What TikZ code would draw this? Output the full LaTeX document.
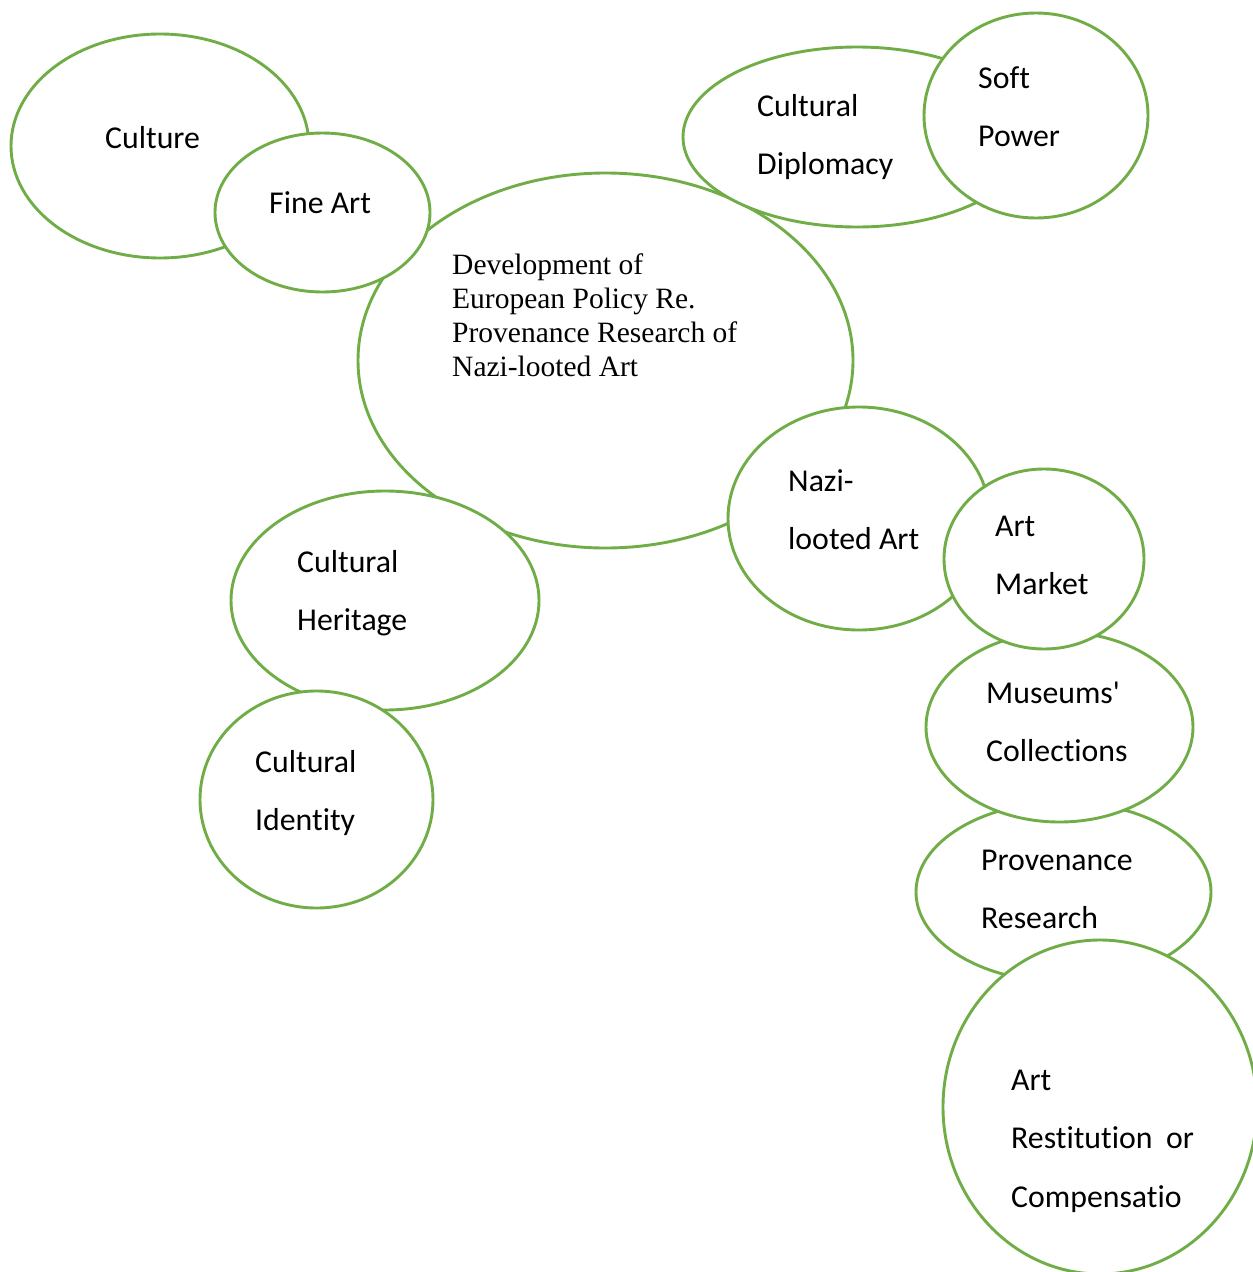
\documentclass[tikz,border=0pt]{standalone}
\usepackage{fontspec}
\setmainfont{Liberation Serif}
\newfontfamily\calib[Ligatures=NoCommon]{Carlito}
\usetikzlibrary{shapes.geometric}
\definecolor{leafgreen}{HTML}{70AD47}
\tikzset{
  bubble/.style={draw=leafgreen, line width=2.9pt, fill=white, ellipse, inner sep=0pt, outer sep=0pt},
  word/.style={anchor=base west, align=left, inner sep=0pt, font=\calib\fontsize{31.8}{58.5}\selectfont},
  serifword/.style={anchor=base west, align=left, inner sep=0pt, font=\fontsize{29.5}{34}\selectfont}
}

\begin{document}
\begin{tikzpicture}[x=1pt, y=-1pt]
\useasboundingbox (0,0) rectangle (1253,1272);

% bubbles, back to front
\foreach \name/\x/\y/\a/\b in {culture/160/146/149/112, policy/605.5/360.5/247.5/187.5, fineart/322.5/212.5/107.5/79.5, diplomacy/857/137/174/90, softpower/1036/115.5/112/102.5, heritage/385/600.5/154/109.5, identity/316.5/799.5/116.5/108.5, looted/859/518.5/131/111.5, provenance/1063.5/892/147.5/90, museums/1059.5/727/133.5/95, market/1044/559/100/90, restitution/1100/1107/157/167}
{
    \node[bubble, minimum width={2*\a pt}, minimum height={2*\b pt}] (\name) at (\x,\y) {};
}

% texts (base = last line)
\node[word] (culturetext) at (105,148) {Culture};
\node[word] (finearttext) at (269,213) {Fine Art};
\node[word] (diplomacytext) at (757,174.5) {Cultural\\Diplomacy};
\node[word] (softpowertext) at (978,146.5) {Soft\\Power};
\node[serifword] (policytext) at (452,376) {Development of\\European Policy Re.\\Provenance Research of\\Nazi-looted Art};
\node[word] (lootedtext) at (788,549.5) {Nazi-\\looted Art};
\node[word] (markettext) at (995,594.5) {Art\\Market};
\node[word] (heritagetext) at (297,630.5) {Cultural\\Heritage};
\node[word] (identitytext) at (255,830.5) {Cultural\\Identity};
\node[word] (museumstext) at (986,761.5) {Museums'\\Collections};
\node[word] (provenancetext) at (981,928.5) {Provenance\\Research};
\node[word] (restitutiontext) at (1011,1207) {Art\\Restitution\hspace{0.2em} or\\Compensatio};

\end{tikzpicture}
\end{document}
